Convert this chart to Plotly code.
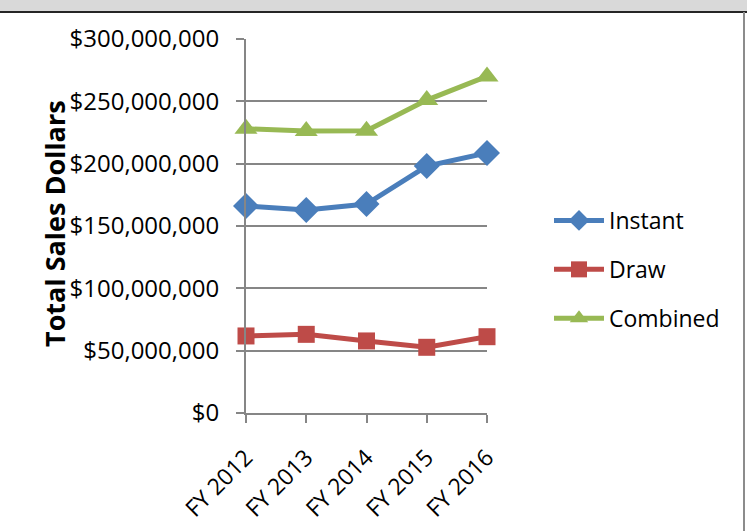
import plotly.graph_objects as go

years = ["FY 2012", "FY 2013", "FY 2014", "FY 2015", "FY 2016"]
instant = [166_000_000, 162_800_000, 167_600_000, 198_100_000, 208_600_000]
draw = [61_800_000, 63_100_000, 57_800_000, 52_700_000, 61_200_000]
combined = [228_000_000, 226_200_000, 226_400_000, 251_000_000, 270_000_000]
ytick_vals = [0, 50_000_000, 100_000_000, 150_000_000, 200_000_000, 250_000_000, 300_000_000]
ytick_text = ["$0", "$50,000,000", "$100,000,000", "$150,000,000", "$200,000,000", "$250,000,000", "$300,000,000"]

FONT = "Open Sans"
W, H = 747, 531
L, R, T, B = 246, 487, 39, 413

def px_x(p):
    return (p - L) / (R - L)

def px_y(p):
    return (B - p) / (B - T)

fig = go.Figure()
series = [
    ("Instant", instant, "#4A7EBB", "diamond", 20),
    ("Draw", draw, "#BE4B48", "square", 17),
    ("Combined", combined, "#98B954", "triangle-up", 20),
]
for name, vals, color, sym, size in series:
    fig.add_trace(go.Scatter(
        x=list(range(len(years))), y=vals, name=name, mode="lines+markers",
        line=dict(color=color, width=5),
        marker=dict(symbol=sym, size=size, color=color),
        cliponaxis=False, legendgroup=name,
    ))

fig.update_layout(
    width=W, height=H,
    margin=dict(l=L, r=W - R, t=T, b=H - B, autoexpand=False),
    paper_bgcolor="white", plot_bgcolor="white",
    font=dict(family=FONT, size=23, color="black"),
    showlegend=True,
    legend=dict(x=px_x(549), y=px_y(199), xanchor="left", yanchor="top",
                font=dict(size=23, family=FONT), tracegroupgap=16,
                bgcolor="rgba(0,0,0,0)", itemwidth=50),
    xaxis=dict(range=[0, 4], tickvals=list(range(5)), ticktext=years,
               tickangle=-45, showgrid=False, showline=True, linecolor="#868686",
               linewidth=2, ticks="outside", ticklen=8, tickcolor="#868686",
               tickwidth=2, tickfont=dict(size=23, family=FONT), zeroline=False,
               ticklabelstandoff=12),
    yaxis=dict(range=[0, 300_000_000], tickvals=ytick_vals, ticktext=ytick_text,
               showgrid=True, gridcolor="#868686", gridwidth=1.5,
               showline=True, linecolor="#868686", linewidth=2,
               ticks="outside", ticklen=8, tickcolor="#868686", tickwidth=2,
               tickfont=dict(size=24, family=FONT), zeroline=False,
               ticklabelstandoff=12),
)

fig.add_annotation(text="<b>Total Sales Dollars</b>", textangle=-90,
                   xref="paper", yref="paper", x=px_x(54), y=px_y(224),
                   xanchor="center", yanchor="middle",
                   showarrow=False, font=dict(size=27, family=FONT, color="black"))

# top gray band and right border
fig.add_shape(type="rect", xref="paper", yref="paper",
              x0=px_x(-5), x1=px_x(W + 5), y0=px_y(12), y1=px_y(-5),
              fillcolor="#D9D9D9", line=dict(width=0), layer="below")
fig.add_shape(type="line", xref="paper", yref="paper",
              x0=px_x(0), x1=px_x(W), y0=px_y(12), y1=px_y(12),
              line=dict(color="#262626", width=2))
fig.add_shape(type="line", xref="paper", yref="paper",
              x0=px_x(744), x1=px_x(744), y0=px_y(12), y1=px_y(H + 5),
              line=dict(color="#8C8C8C", width=2))

fig.write_html("out.html", config={"displayModeBar": False},
               post_script="document.body.style.margin='0';")
